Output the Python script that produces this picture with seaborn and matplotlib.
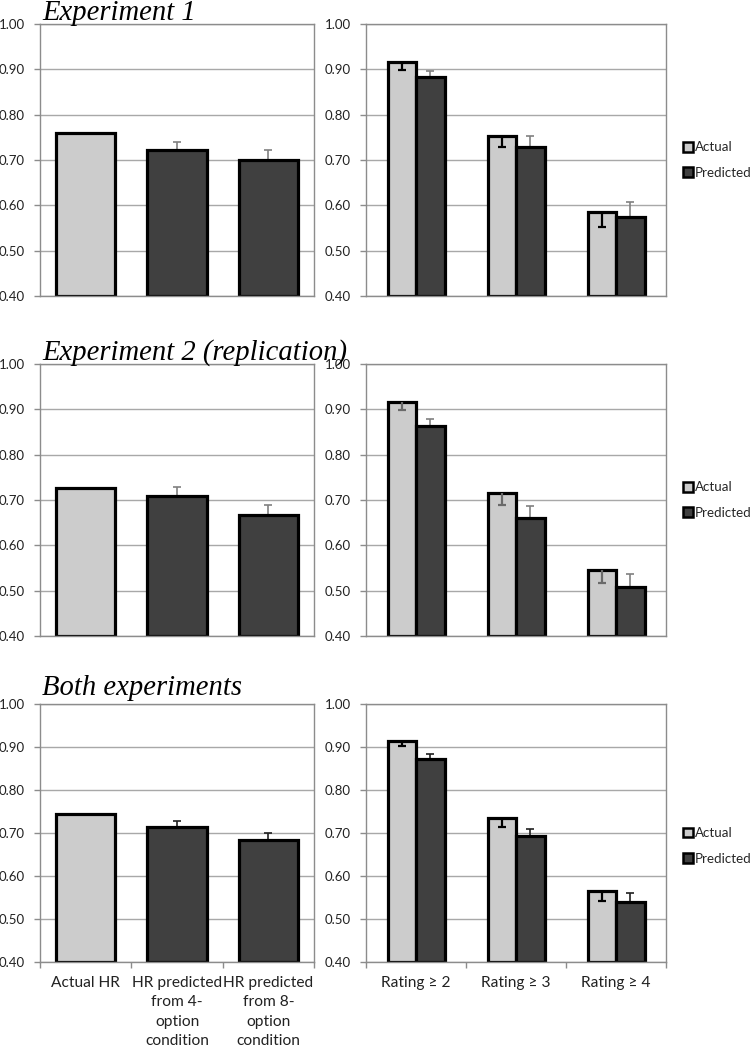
import numpy as np
import pandas as pd
import seaborn as sns
import matplotlib.pyplot as plt
from matplotlib.patches import Patch

# Panel titles
titles = ["Experiment 1", "Experiment 2 (replication)", "Both experiments"]

# Left panels: actual hit rate vs predicted hit rates
hr_labels = ["Actual HR",
             "HR predicted\nfrom 4-\noption\ncondition",
             "HR predicted\nfrom 8-\noption\ncondition"]
hr_exp1 = [0.760, 0.721, 0.699]
hr_exp2 = [0.726, 0.708, 0.666]
hr_both = [0.744, 0.715, 0.683]
hr_err_exp1 = [0.0, 0.018, 0.024]
hr_err_exp2 = [0.0, 0.021, 0.022]
hr_err_both = [0.0, 0.014, 0.016]

# Right panels: rating thresholds, actual vs predicted
rating_labels = ["Rating ≥ 2", "Rating ≥ 3", "Rating ≥ 4"]
series = ["Actual", "Predicted"]
actual_exp1 = [0.916, 0.754, 0.585]
predicted_exp1 = [0.882, 0.729, 0.575]
actual_err_exp1 = [0.017, 0.026, 0.033]
predicted_err_exp1 = [0.014, 0.024, 0.032]
actual_exp2 = [0.916, 0.716, 0.546]
predicted_exp2 = [0.863, 0.660, 0.508]
actual_err_exp2 = [0.017, 0.026, 0.030]
predicted_err_exp2 = [0.016, 0.027, 0.028]
actual_both = [0.914, 0.734, 0.564]
predicted_both = [0.872, 0.692, 0.539]
actual_err_both = [0.011, 0.019, 0.023]
predicted_err_both = [0.011, 0.018, 0.022]

y_ticks = [0.40, 0.50, 0.60, 0.70, 0.80, 0.90, 1.00]

light = "#cccccc"
dark = "#404040"
grid_col = "#a8a8a8"
frame_col = "#8c8c8c"

sns.set_theme(style="white")
plt.rcParams["font.family"] = ["Lato", "DejaVu Sans"]

W, H = 754, 1050
fig = plt.figure(figsize=(W / 100, H / 100), dpi=100)


def px_rect(x0, y0, x1, y1):
    return [x0 / W, 1 - y1 / H, (x1 - x0) / W, (y1 - y0) / H]


rows = [
    dict(top=24, bot=296, hr=hr_exp1, hr_err=hr_err_exp1,
         act=actual_exp1, pred=predicted_exp1,
         act_err=actual_err_exp1, pred_err=predicted_err_exp1,
         act_ec="black", pred_ec="#808080", leg_y=0.5, title_y=20),
    dict(top=364, bot=636, hr=hr_exp2, hr_err=hr_err_exp2,
         act=actual_exp2, pred=predicted_exp2,
         act_err=actual_err_exp2, pred_err=predicted_err_exp2,
         act_ec="#6a6a6a", pred_ec="#808080", leg_y=0.5, title_y=360),
    dict(top=704, bot=962, hr=hr_both, hr_err=hr_err_both,
         act=actual_both, pred=predicted_both,
         act_err=actual_err_both, pred_err=predicted_err_both,
         act_ec="black", pred_ec="#202020", leg_y=0.45, title_y=695),
]


def style_axes(ax, bottom_row):
    ax.set_ylim(0.40, 1.00)
    ax.set_xlim(-0.5, 2.5)
    ax.set_yticks(y_ticks)
    ax.set_yticklabels([f"{t:.2f}" for t in y_ticks], fontsize=9.5, color="#222222")
    ax.yaxis.grid(True, color=grid_col, linewidth=1.0)
    ax.set_axisbelow(True)
    for s in ax.spines.values():
        s.set_color(frame_col)
        s.set_linewidth(1.0)
    ax.tick_params(axis="y", length=4, width=1, color=frame_col, pad=7, left=True)
    ax.set_xlabel("")
    ax.set_ylabel("")
    if bottom_row:
        ax.set_xticks([-0.5, 0.5, 1.5, 2.5], minor=True)
        ax.tick_params(axis="x", which="minor", length=4, width=1, color=frame_col, bottom=True)
        ax.tick_params(axis="x", which="major", length=0, pad=10, labelsize=11.2,
                       labelcolor="#222222")
        for lab in ax.get_xticklabels():
            lab.set_linespacing(1.5)
            lab.set_verticalalignment("top")
    else:
        ax.tick_params(axis="x", labelbottom=False, length=0)


def rebase_bars(ax, base=0.40):
    # start the bars at the axis floor so their bottom edges show
    for p in ax.patches:
        h = p.get_height()
        p.set_y(base)
        p.set_height(h - base)


def one_sided_err(ax, x, top, err, color, lw, down):
    if err <= 0:
        return
    yerr = [[err], [0]] if down else [[0], [err]]
    eb = ax.errorbar([x], [top], yerr=yerr, fmt="none", ecolor=color,
                     elinewidth=lw, capsize=2.6, capthick=lw,
                     zorder=3 if down else 0.9)
    caps = eb[1]
    if len(caps) == 2:
        caps[1 if down else 0].set_visible(False)


for i, r in enumerate(rows):
    bottom_row = i == 2

    # ---- left panel
    axl = fig.add_axes(px_rect(40, r["top"], 314, r["bot"]))
    df_l = pd.DataFrame({"cond": hr_labels, "value": r["hr"]})
    sns.barplot(data=df_l, x="cond", y="value", hue="cond",
                palette=[light, dark, dark], width=0.65, legend=False,
                edgecolor="black", linewidth=2.3, saturation=1, ax=axl)
    rebase_bars(axl)
    bars = sorted(axl.patches, key=lambda p: p.get_x())
    for p, e in zip(bars, r["hr_err"]):
        one_sided_err(axl, p.get_x() + p.get_width() / 2, p.get_y() + p.get_height(),
                      e, r["pred_ec"], 1.2, down=False)
    style_axes(axl, bottom_row)

    # ---- right panel
    axr = fig.add_axes(px_rect(366, r["top"], 666, r["bot"]))
    df_r = pd.DataFrame({
        "rating": rating_labels * 2,
        "series": [series[0]] * 3 + [series[1]] * 3,
        "value": r["act"] + r["pred"],
    })
    sns.barplot(data=df_r, x="rating", y="value", hue="series",
                palette=[light, dark], width=0.57, legend=False,
                edgecolor="black", linewidth=2.3, saturation=1, ax=axr)
    rebase_bars(axr)
    bars = sorted(axr.patches, key=lambda p: p.get_x())
    errs = [e for pair in zip(r["act_err"], r["pred_err"]) for e in pair]
    for k, (p, e) in enumerate(zip(bars, errs)):
        is_actual = k % 2 == 0
        one_sided_err(axr, p.get_x() + p.get_width() / 2, p.get_y() + p.get_height(),
                      e, r["act_ec"] if is_actual else r["pred_ec"],
                      1.6 if is_actual else 1.2, down=is_actual)
    style_axes(axr, bottom_row)

    handles = [Patch(facecolor=light, edgecolor="black", linewidth=1.8),
               Patch(facecolor=dark, edgecolor="black", linewidth=1.8)]
    axr.legend(handles, series, loc="center left", bbox_to_anchor=(1.055, r["leg_y"]),
               frameon=False, fontsize=9.6, handlelength=0.75, handleheight=0.75,
               handletextpad=0.2, labelspacing=1.0, borderpad=0, borderaxespad=0)

    fig.text(42 / W, 1 - r["title_y"] / H, titles[i], family="Liberation Serif",
             style="italic", fontsize=20.6, va="baseline", ha="left", color="black")

fig.savefig("out.png", dpi=100, facecolor="white")
